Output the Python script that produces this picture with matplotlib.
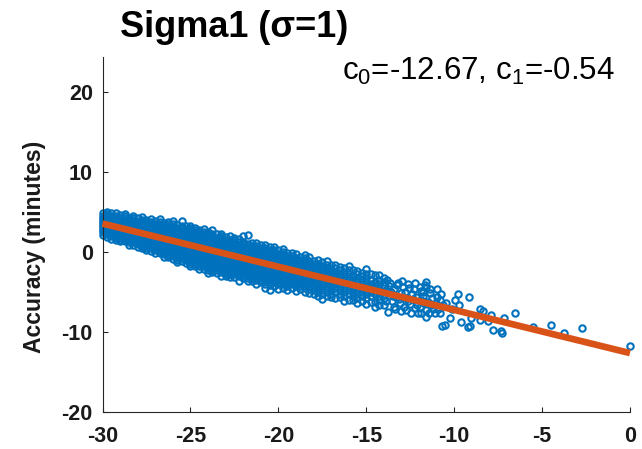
import matplotlib
matplotlib.use('Agg')
import matplotlib.pyplot as plt

plt.rcParams['font.family'] = ['Liberation Sans', 'DejaVu Sans']
plt.rcParams['mathtext.fontset'] = 'custom'
plt.rcParams['mathtext.rm'] = 'Liberation Sans'
plt.rcParams['mathtext.it'] = 'Liberation Sans'
plt.rcParams['axes.unicode_minus'] = False

# ---------------- data ----------------
c0 = -12.67
c1 = -0.54
fit_x = [-30, 0]

# dense band, x = -30 ... -20 (columns of points)
band_x = [-30.0, -29.75, -29.5, -29.25, -29.0, -28.75, -28.5, -28.25, -28.0, -27.75,
          -27.5, -27.25, -27.0, -26.75, -26.5, -26.25, -26.0, -25.75, -25.5, -25.25,
          -25.0, -24.75, -24.5, -24.25, -24.0, -23.75, -23.5, -23.25, -23.0, -22.75,
          -22.5, -22.25, -22.0, -21.75, -21.5, -21.25, -21.0, -20.75, -20.5, -20.25,
          -20.0]
band_y = [
    [4.8, 4.5, 4.25, 4.0, 3.75, 3.5, 3.25, 3.0, 2.75, 2.5, 2.1],
    [5.0, 4.75, 4.5, 4.25, 4.0, 3.75, 3.5, 3.25, 3.0, 2.75, 2.5, 2.25, 1.9],
    [4.8, 4.5, 4.25, 4.0, 3.75, 3.5, 3.25, 3.0, 2.75, 2.5, 2.25, 2.0, 1.6],
    [4.9, 4.5, 4.25, 4.0, 3.75, 3.5, 3.25, 3.0, 2.75, 2.5, 2.25, 2.0, 1.75, 1.5],
    [4.6, 4.25, 4.0, 3.75, 3.5, 3.25, 3.0, 2.75, 2.5, 2.25, 2.0, 1.75, 1.5, 1.3],
    [4.7, 4.5, 4.25, 4.0, 3.75, 3.5, 3.25, 3.0, 2.75, 2.5, 2.25, 2.0, 1.75, 1.5, 1.3],
    [4.2, 3.75, 3.5, 3.25, 3.0, 2.75, 2.5, 2.25, 2.0, 1.75, 1.5, 1.25, 0.9],
    [4.5, 4.25, 4.0, 3.75, 3.5, 3.25, 3.0, 2.75, 2.5, 2.25, 2.0, 1.75, 1.5, 1.25, 0.9],
    [4.2, 3.75, 3.5, 3.25, 3.0, 2.75, 2.5, 2.25, 2.0, 1.75, 1.5, 1.25, 1.0, 0.6],
    [4.3, 4.0, 3.75, 3.5, 3.25, 3.0, 2.75, 2.5, 2.25, 2.0, 1.75, 1.5, 1.25, 1.0, 0.75, 0.5],
    [4.0, 3.75, 3.5, 3.25, 3.0, 2.75, 2.5, 2.25, 2.0, 1.75, 1.5, 1.25, 1.0, 0.75, 0.5, 0.2],
    [4.1, 3.75, 3.5, 3.25, 3.0, 2.75, 2.5, 2.25, 2.0, 1.75, 1.5, 1.25, 1.0, 0.75, 0.5, 0.1],
    [3.8, 3.5, 3.25, 3.0, 2.75, 2.5, 2.25, 2.0, 1.75, 1.5, 1.25, 1.0, 0.75, 0.5, 0.25, -0.2],
    [4.1, 3.75, 3.5, 3.25, 3.0, 2.75, 2.5, 2.25, 2.0, 1.75, 1.5, 1.25, 1.0, 0.75, 0.5, 0.25, 0.0, -0.2],
    [3.6, 3.25, 3.0, 2.75, 2.5, 2.25, 2.0, 1.75, 1.5, 1.25, 1.0, 0.75, 0.5, 0.25, 0.0, -0.25, -0.7],
    [3.7, 3.5, 3.25, 3.0, 2.75, 2.5, 2.25, 2.0, 1.75, 1.5, 1.25, 1.0, 0.75, 0.5, 0.25, 0.0, -0.25, -0.5, -0.7],
    [3.8, 3.5, 3.25, 3.0, 2.75, 2.5, 2.25, 2.0, 1.75, 1.5, 1.25, 1.0, 0.75, 0.5, 0.25, 0.0, -0.25, -0.5, -0.9],
    [3.3, 3.0, 2.75, 2.5, 2.25, 2.0, 1.75, 1.5, 1.25, 1.0, 0.75, 0.5, 0.25, 0.0, -0.25, -0.5, -0.75, -1.0, -1.3],
    [3.9, 3.25, 3.0, 2.75, 2.5, 2.25, 2.0, 1.75, 1.5, 1.25, 1.0, 0.75, 0.5, 0.25, 0.0, -0.25, -0.5, -0.75, -1.1],
    [3.2, 2.75, 2.5, 2.25, 2.0, 1.75, 1.5, 1.25, 1.0, 0.75, 0.5, 0.25, 0.0, -0.25, -0.5, -0.75, -1.0, -1.4],
    [3.2, 3.0, 2.75, 2.5, 2.25, 2.0, 1.75, 1.5, 1.25, 1.0, 0.75, 0.5, 0.25, 0.0, -0.25, -0.5, -0.75, -1.0, -1.25, -1.5, -1.8],
    [3.0, 2.75, 2.5, 2.25, 2.0, 1.75, 1.5, 1.25, 1.0, 0.75, 0.5, 0.25, 0.0, -0.25, -0.5, -0.75, -1.0, -1.25, -1.5, -1.8],
    [2.7, 2.5, 2.25, 2.0, 1.75, 1.5, 1.25, 1.0, 0.75, 0.5, 0.25, 0.0, -0.25, -0.5, -0.75, -1.0, -1.25, -1.5, -1.75, -2.2],
    [2.8, 2.5, 2.25, 2.0, 1.75, 1.5, 1.25, 1.0, 0.75, 0.5, 0.25, 0.0, -0.25, -0.5, -0.75, -1.0, -1.25, -1.5, -1.75, -2.2],
    [2.5, 2.25, 2.0, 1.75, 1.5, 1.25, 1.0, 0.75, 0.5, 0.25, 0.0, -0.25, -0.5, -0.75, -1.0, -1.25, -1.5, -1.75, -2.0, -2.25, -2.6],
    [2.7, 2.25, 2.0, 1.75, 1.5, 1.25, 1.0, 0.75, 0.5, 0.25, 0.0, -0.25, -0.5, -0.75, -1.0, -1.25, -1.5, -1.75, -2.0, -2.25, -2.5],
    [2.2, 1.75, 1.5, 1.25, 1.0, 0.75, 0.5, 0.25, 0.0, -0.25, -0.5, -0.75, -1.0, -1.25, -1.5, -1.75, -2.0, -2.25, -2.6],
    [2.2, 2.0, 1.75, 1.5, 1.25, 1.0, 0.75, 0.5, 0.25, 0.0, -0.25, -0.5, -0.75, -1.0, -1.25, -1.5, -1.75, -2.0, -2.25, -2.5, -3.0],
    [1.8, 1.5, 1.25, 1.0, 0.75, 0.5, 0.25, 0.0, -0.25, -0.5, -0.75, -1.0, -1.25, -1.5, -1.75, -2.0, -2.25, -2.5, -2.75, -3.0],
    [2.0, 1.5, 1.25, 1.0, 0.75, 0.5, 0.25, 0.0, -0.25, -0.5, -0.75, -1.0, -1.25, -1.5, -1.75, -2.0, -2.25, -2.5, -2.75, -3.2],
    [1.7, 1.5, 1.25, 1.0, 0.75, 0.5, 0.25, 0.0, -0.25, -0.5, -0.75, -1.0, -1.25, -1.5, -1.75, -2.0, -2.25, -2.5, -2.75, -3.1],
    [1.6, 1.25, 1.0, 0.75, 0.5, 0.25, 0.0, -0.25, -0.5, -0.75, -1.0, -1.25, -1.5, -1.75, -2.0, -2.25, -2.5, -2.75, -3.0, -3.6],
    [2.0, 1.25, 1.0, 0.75, 0.5, 0.25, 0.0, -0.25, -0.5, -0.75, -1.0, -1.25, -1.5, -1.75, -2.0, -2.25, -2.5, -2.75, -3.0, -3.3],
    [2.1, 1.0, 0.75, 0.5, 0.25, 0.0, -0.25, -0.5, -0.75, -1.0, -1.25, -1.5, -1.75, -2.0, -2.25, -2.5, -2.75, -3.0, -3.25, -3.6],
    [1.1, 0.75, 0.5, 0.25, 0.0, -0.25, -0.5, -0.75, -1.0, -1.25, -1.5, -1.75, -2.0, -2.25, -2.5, -2.75, -3.0, -3.25, -3.7],
    [1.1, 0.75, 0.5, 0.25, 0.0, -0.25, -0.5, -0.75, -1.0, -1.25, -1.5, -1.75, -2.0, -2.25, -2.5, -2.75, -3.0, -3.25, -3.5, -4.0],
    [0.8, 0.5, 0.25, 0.0, -0.25, -0.5, -0.75, -1.0, -1.25, -1.5, -1.75, -2.0, -2.25, -2.5, -2.75, -3.0, -3.25, -3.5, -3.8],
    [0.9, 0.5, 0.25, 0.0, -0.25, -0.5, -0.75, -1.0, -1.25, -1.5, -1.75, -2.0, -2.25, -2.5, -2.75, -3.0, -3.25, -3.5, -4.0, -4.5],
    [0.6, 0.25, 0.0, -0.25, -0.5, -0.75, -1.0, -1.25, -1.5, -1.75, -2.0, -2.25, -2.5, -2.75, -3.0, -3.25, -3.5, -3.75, -4.2, -4.8],
    [0.6, 0.25, 0.0, -0.25, -0.5, -0.75, -1.0, -1.25, -1.5, -1.75, -2.0, -2.25, -2.5, -2.75, -3.0, -3.25, -3.5, -3.75, -4.3],
    [0.2, -0.25, -0.5, -0.75, -1.0, -1.25, -1.5, -1.75, -2.0, -2.25, -2.5, -2.75, -3.0, -3.25, -3.5, -3.75, -4.0, -4.6],
]

# thinner band, x = -19.75 ... -14
mid_x = [-19.75, -19.5, -19.25, -19.0, -18.75, -18.5, -18.25, -18.0, -17.75, -17.5,
         -17.25, -17.0, -16.75, -16.5, -16.25, -16.0, -15.75, -15.5, -15.25, -15.0,
         -14.75, -14.5, -14.25, -14.0]
mid_y = [
    [0.3, 0.0, -0.25, -0.5, -0.75, -1.0, -1.25, -1.5, -1.75, -2.0, -2.25, -2.5, -2.75, -3.0, -3.25, -3.5, -3.75, -4.0, -4.5],
    [-0.1, -0.5, -0.75, -1.0, -1.25, -1.5, -1.75, -2.0, -2.25, -2.5, -2.75, -3.0, -3.25, -3.5, -3.75, -4.0, -4.25, -4.8],
    [-0.2, -0.5, -0.75, -1.0, -1.25, -1.5, -1.75, -2.0, -2.25, -2.5, -2.75, -3.0, -3.25, -3.5, -3.75, -4.0, -4.5],
    [-0.3, -0.75, -1.0, -1.25, -1.5, -1.75, -2.0, -2.25, -2.5, -2.75, -3.0, -3.25, -3.5, -3.75, -4.0, -4.25, -4.9],
    [-0.6, -1.0, -1.25, -1.5, -1.75, -2.0, -2.25, -2.5, -2.75, -3.0, -3.25, -3.5, -3.75, -4.0, -4.25, -4.7],
    [-0.4, -0.75, -1.0, -1.25, -1.5, -1.75, -2.0, -2.25, -2.5, -2.75, -3.0, -3.25, -3.5, -3.75, -4.0, -4.5, -5.0],
    [-0.7, -1.1, -1.5, -1.75, -2.0, -2.25, -2.5, -2.75, -3.0, -3.25, -3.5, -3.75, -4.0, -4.25, -4.6, -5.1],
    [-1.1, -1.5, -1.75, -2.0, -2.25, -2.5, -2.75, -3.0, -3.25, -3.5, -3.75, -4.0, -4.25, -4.75, -5.3],
    [-1.0, -1.5, -1.75, -2.0, -2.25, -2.5, -2.75, -3.0, -3.25, -3.5, -3.75, -4.0, -4.5, -5.0, -5.5],
    [-1.3, -1.75, -2.0, -2.25, -2.5, -2.75, -3.0, -3.25, -3.5, -3.75, -4.0, -4.25, -4.75, -5.25, -5.9],
    [-1.2, -1.6, -2.0, -2.25, -2.5, -2.75, -3.0, -3.25, -3.5, -3.75, -4.0, -4.5, -5.0, -5.5],
    [-1.6, -2.25, -2.5, -2.75, -3.0, -3.25, -3.5, -3.75, -4.0, -4.25, -4.75, -5.25, -5.7],
    [-1.6, -2.0, -2.5, -2.75, -3.0, -3.25, -3.5, -3.75, -4.0, -4.5, -5.0, -5.8],
    [-1.9, -2.25, -2.75, -3.0, -3.25, -3.75, -4.25, -4.75, -5.25, -5.6],
    [-2.0, -2.5, -3.0, -3.5, -4.0, -4.5, -5.0, -5.5, -6.2],
    [-1.8, -2.25, -2.75, -3.25, -3.75, -4.25, -4.75, -5.25, -6.0],
    [-2.3, -3.0, -3.5, -4.0, -4.5, -5.0, -5.5, -6.0],
    [-2.4, -2.75, -3.25, -3.75, -4.25, -4.75, -5.25, -5.75, -6.4],
    [-2.6, -3.0, -3.5, -4.0, -4.5, -5.0, -5.5, -6.1],
    [-2.1, -2.75, -3.25, -3.75, -4.25, -4.75, -5.25, -5.75, -6.5],
    [-2.8, -3.5, -4.0, -4.5, -5.0, -5.5, -6.3],
    [-2.9, -3.75, -4.25, -4.75, -5.25, -6.25, -6.9],
    [-2.9, -3.5, -4.0, -4.5, -5.0, -5.5, -6.0, -6.7],
    [-3.3, -3.75, -4.25, -5.25, -5.75, -6.6],
]

# individual points, x > -14
sparse_x = [-13.9, -13.85, -13.8, -13.76, -13.7, -13.65, -13.6, -13.55, -13.5, -13.45,
            -13.4, -13.35, -13.3, -13.25, -13.2, -13.15, -13.1, -13.05, -13.0, -12.95,
            -12.9, -12.85, -12.8, -12.72, -12.7, -12.65, -12.6, -12.55, -12.5, -12.45,
            -12.4, -12.35, -12.3, -12.25, -12.2, -12.15, -12.1, -12.05, -11.96, -11.96,
            -11.9, -11.9, -11.86, -11.8, -11.77, -11.7, -11.65, -11.6, -11.58, -11.58,
            -11.58, -11.5, -11.45, -11.39, -11.35, -11.3, -11.25, -11.2, -11.1, -11.05,
            -11.0, -10.95, -10.9, -10.82, -10.82, -10.75, -10.72, -10.63, -10.54, -10.44,
            -10.25, -10.1, -9.97, -9.78, -9.72, -9.62, -9.2, -9.17, -9.11, -9.02,
            -8.54, -8.35, -8.54, -8.07, -7.88, -7.79, -7.31, -7.28, -7.18, -6.55,
            -5.51, -4.5, -3.76, -2.74, 0.0]
sparse_y = [-4.8, -6.2, -3.5, -7.5, -4.3, -3.9, -5.0, -6.1, -5.5, -6.9,
            -4.6, -7.2, -5.6, -4.2, -3.9, -5.9, -6.4, -7.4, -5.1, -3.7,
            -4.4, -6.9, -5.0, -7.3, -5.8, -6.1, -4.0, -4.5, -6.5, -7.6,
            -5.3, -5.9, -4.7, -3.9, -7.0, -5.6, -6.6, -7.7, -4.4, -6.9,
            -6.0, -4.9, -7.7, -5.5, -5.0, -6.4, -4.1, -8.1, -3.75, -4.4,
            -7.3, -6.25, -7.6, -5.2, -4.6, -6.6, -5.8, -7.1, -7.7, -6.4,
            -4.7, -5.6, -7.1, -6.0, -7.7, -5.3, -9.3, -6.7, -9.1, -6.45,
            -8.3, -7.2, -6.0, -5.3, -6.6, -8.8, -9.4, -5.7, -9.3, -8.3,
            -7.2, -7.4, -8.5, -8.7, -7.9, -9.75, -9.9, -10.2, -8.3, -7.7,
            -9.4, -9.17, -10.1, -9.54, -11.75]

x_ticks = [-30, -25, -20, -15, -10, -5, 0]
y_ticks = [-20, -10, 0, 10, 20]

# ---------------- assemble ----------------
xs, ys = [], []
for x, col in zip(band_x, band_y):
    xs += [x] * len(col)
    ys += col
for x, col in zip(mid_x, mid_y):
    xs += [x] * len(col)
    ys += col
xs += sparse_x
ys += sparse_y

fit_y = [c0 + c1 * v for v in fit_x]

fig = plt.figure(figsize=(6.42, 4.49), dpi=100)
ax = fig.add_axes([0.1597, 0.0831, 0.8216, 0.7906])

ax.plot(xs, ys, 'o', mfc='none', mec='#0072BD', ms=4.6, mew=1.5, clip_on=False, zorder=2)
ax.plot(fit_x, fit_y, color='#D95319', lw=4.8, solid_capstyle='butt', clip_on=False, zorder=3)

ax.set_xlim(-30, 0)
ax.set_ylim(-20, 24.4)
ax.set_xticks(x_ticks)
ax.set_yticks(y_ticks)
ax.set_xticklabels([str(t) for t in x_ticks])
ax.set_yticklabels([str(t) for t in y_ticks])

for s in ['top', 'right']:
    ax.spines[s].set_visible(False)
for s in ['left', 'bottom']:
    ax.spines[s].set_color('#262626')
    ax.spines[s].set_linewidth(0.8)

ax.tick_params(direction='in', length=3.8, width=0.8, colors='#262626', labelsize=15.5)
ax.tick_params(axis='x', pad=10)
ax.tick_params(axis='y', pad=7)
for lab in ax.get_xticklabels() + ax.get_yticklabels():
    lab.set_fontweight('bold')
    lab.set_color('#1a1a1a')

fig.text(0.053, 0.45, 'Accuracy (minutes)', rotation=90, ha='center', va='center',
         fontsize=16.5, fontweight='bold', color='#1a1a1a')
fig.text(0.365, 0.918, 'Sigma1 (σ=1)', ha='center', va='baseline',
         fontsize=26, fontweight='bold', color='black')
fig.text(0.958, 0.822, r'c$_0$=-12.67, c$_1$=-0.54', ha='right', va='baseline',
         fontsize=22.5, color='black')

fig.savefig('out.png', dpi=100)
